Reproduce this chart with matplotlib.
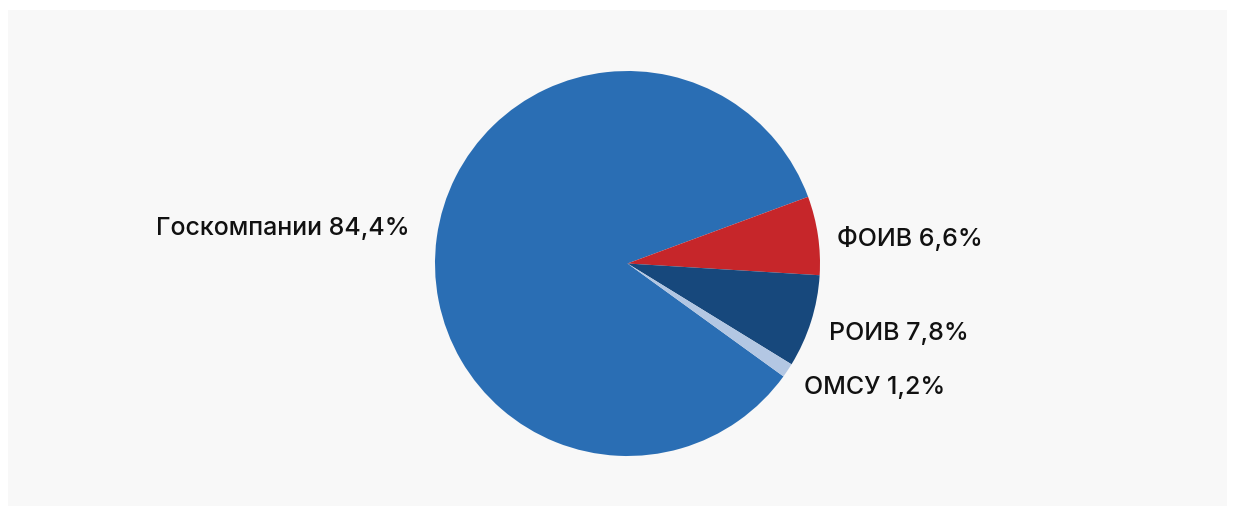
import matplotlib
matplotlib.use("Agg")
import matplotlib.pyplot as plt
from matplotlib.patches import Rectangle

categories = ["Госкомпании", "ФОИВ", "РОИВ", "ОМСУ"]
shares = [84.4, 6.6, 7.8, 1.2]
colors = ["#2A6EB4", "#C6262A", "#17487C", "#B3C7E3"]
labels = [f"{c} {str(v).replace('.', ',')}%" for c, v in zip(categories, shares)]

plt.rcParams['font.family'] = ['Inter', 'DejaVu Sans']

W, H = 1235, 510
fig = plt.figure(figsize=(W / 100, H / 100), dpi=100)
fig.patch.set_facecolor("white")
ax = fig.add_axes([0, 0, 1, 1])

# background panel
ax.add_patch(Rectangle((8, 3), 1219, 496, facecolor="#F8F8F8", edgecolor="none", zorder=0))

cx, cy, R = 627.5, 245.5, 192.5
wedges, texts = ax.pie(shares, colors=colors, labels=labels, startangle=-35.9,
                       counterclock=False, center=(cx, cy), radius=R,
                       labeldistance=1.1, frame=True,
                       wedgeprops=dict(linewidth=0),
                       textprops=dict(fontsize=18, color="#111111", fontweight="medium"))
for w in wedges:
    w.set_zorder(2)
for t in texts:
    x, y = t.get_position()
    t.set_ha('left' if x > cx else 'right')
    t.set_position((x, y - 5))
x, y = texts[0].get_position()
texts[0].set_position((cx + (x - cx) * 1.04, y + 12))

ax.set_xlim(0, W)
ax.set_ylim(0, H)
ax.set_aspect('auto')
ax.axis('off')
fig.savefig("out.png", dpi=100, facecolor="white")
